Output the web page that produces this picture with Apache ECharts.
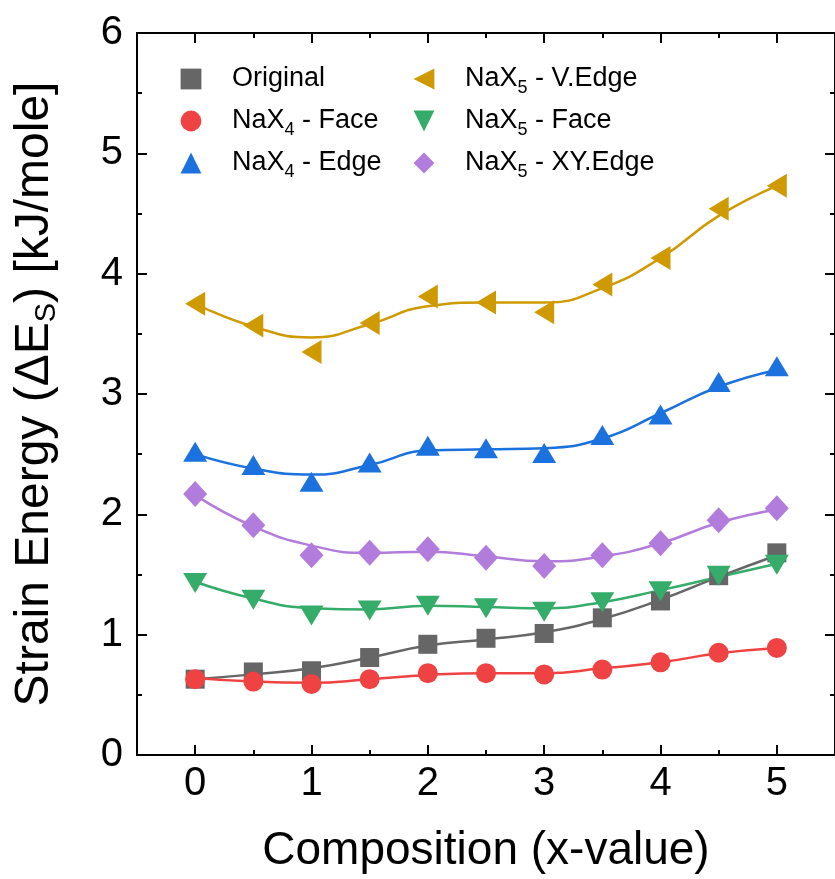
<!DOCTYPE html>
<html>
<head>
<meta charset="utf-8">
<script src="https://cdn.jsdelivr.net/npm/echarts@6/dist/echarts.min.js"></script>
<style>
  html, body { margin: 0; padding: 0; background: #ffffff; }
  #chart { width: 835px; height: 879px; }
</style>
</head>
<body>
<div id="chart"></div>
<script>
// Composition values (x) and tick labels
const compositions = [0, 0.5, 1, 1.5, 2, 2.5, 3, 3.5, 4, 4.5, 5];
const xMajorTicks = [0, 1, 2, 3, 4, 5];
const xMinorTicks = [0.5, 1.5, 2.5, 3.5, 4.5];
const seriesNames = ['Original', 'NaX4 - Face', 'NaX4 - Edge', 'NaX5 - V.Edge', 'NaX5 - Face', 'NaX5 - XY.Edge'];

// Strain energy per composition (kJ/mole)
const original   = [0.63, 0.69, 0.70, 0.81, 0.92, 0.97, 1.01, 1.14, 1.28, 1.49, 1.68];
const nax4Face   = [0.63, 0.61, 0.59, 0.63, 0.68, 0.68, 0.67, 0.71, 0.77, 0.85, 0.89];
const nax4Edge   = [2.52, 2.41, 2.27, 2.43, 2.57, 2.55, 2.51, 2.66, 2.83, 3.10, 3.23];
const nax5VEdge  = [3.75, 3.57, 3.35, 3.59, 3.81, 3.76, 3.68, 3.91, 4.13, 4.54, 4.73];
const nax5Face   = [1.43, 1.29, 1.16, 1.20, 1.24, 1.22, 1.19, 1.27, 1.36, 1.49, 1.58];
const nax5XYEdge = [2.17, 1.91, 1.66, 1.68, 1.71, 1.64, 1.57, 1.66, 1.76, 1.95, 2.05];

// Smoothed trend curves through each data set
const originalFit   = [0.63, 0.67, 0.72, 0.81, 0.91, 0.96, 1.02, 1.13, 1.29, 1.48, 1.66];
const nax4FaceFit   = [0.64, 0.61, 0.60, 0.63, 0.665, 0.68, 0.68, 0.72, 0.77, 0.845, 0.89];
const nax4EdgeFit   = [2.50, 2.38, 2.33, 2.41, 2.53, 2.54, 2.55, 2.63, 2.84, 3.06, 3.20];
const nax5VEdgeFit  = [3.75, 3.56, 3.47, 3.58, 3.73, 3.76, 3.76, 3.88, 4.13, 4.48, 4.73];
const nax5FaceFit   = [1.44, 1.30, 1.22, 1.21, 1.24, 1.23, 1.22, 1.27, 1.37, 1.48, 1.59];
const nax5XYEdgeFit = [2.16, 1.90, 1.74, 1.68, 1.69, 1.65, 1.61, 1.65, 1.76, 1.93, 2.04];

const FONT = '"Liberation Sans", Arial, Helvetica, sans-serif';

const styles = [
  { values: original,   fit: originalFit,   color: '#666666', symbol: 'rect',     size: 19,       rotate: 0 },
  { values: nax4Face,   fit: nax4FaceFit,   color: '#EF4242', symbol: 'circle',   size: 20,       rotate: 0 },
  { values: nax4Edge,   fit: nax4EdgeFit,   color: '#1B72DF', symbol: 'triangle', size: [24, 20], rotate: 0 },
  { values: nax5VEdge,  fit: nax5VEdgeFit,  color: '#CF9A00', symbol: 'triangle', size: [24, 20], rotate: 90 },
  { values: nax5Face,   fit: nax5FaceFit,   color: '#35AC69', symbol: 'triangle', size: [24, 20], rotate: 180 },
  { values: nax5XYEdge, fit: nax5XYEdgeFit, color: '#B27CDD', symbol: 'diamond',  size: [24, 26], rotate: 0 }
];

const pairs = arr => compositions.map((x, i) => [x, arr[i]]);

const markerSeries = styles.map((s, i) => ({
  name: seriesNames[i],
  type: 'line',
  data: pairs(s.values),
  symbol: s.symbol,
  symbolSize: s.size,
  symbolRotate: s.rotate,
  showSymbol: true,
  itemStyle: { color: s.color },
  lineStyle: { width: 0 },
  z: 4,
  silent: true
}));

const fitSeries = styles.map((s, i) => ({
  name: seriesNames[i],
  type: 'line',
  data: pairs(s.fit),
  smooth: true,
  symbol: 'none',
  lineStyle: { color: s.color, width: 2.5 },
  itemStyle: { color: s.color },
  z: 2,
  silent: true
}));

// Subscript digit after "X" in legend entries
const subFormatter = name => name.replace(/X(\d)/, 'X{sub|$1}');

const legendText = {
  fontFamily: FONT, fontSize: 27, color: '#000', lineHeight: 36,
  rich: { sub: { fontFamily: FONT, fontSize: 18, lineHeight: 18, padding: [18, 0, 0, 0], color: '#000' } }
};

const legendBase = {
  orient: 'vertical', top: 61, itemWidth: 72, itemHeight: 26, itemGap: 6, padding: 0,
  textStyle: legendText, formatter: subFormatter, selectedMode: false,
  lineStyle: { width: 0 }
};

const majorTick = { show: true, inside: true, length: 10, lineStyle: { color: '#000', width: 2 } };
const minorTick = { show: true, inside: true, length: 5, lineStyle: { color: '#000', width: 2 } };
const axisLineStyle = { show: true, onZero: false, lineStyle: { color: '#000', width: 2 } };

const xBase = { type: 'value', min: -0.5, max: 5.5, splitLine: { show: false } };

const option = {
  animation: false,
  backgroundColor: '#ffffff',
  grid: { left: 137, top: 33, width: 704, height: 722, containLabel: false },
  legend: [
    Object.assign({}, legendBase, { left: 155, data: seriesNames.slice(0, 3) }),
    Object.assign({}, legendBase, { left: 388, data: seriesNames.slice(3) })
  ],
  xAxis: [
    Object.assign({}, xBase, {
      position: 'bottom',
      name: 'Composition (x-value)', nameLocation: 'middle', nameGap: 73,
      nameTextStyle: { fontFamily: FONT, fontSize: 46, color: '#000', lineHeight: 46 },
      axisLine: axisLineStyle,
      axisTick: Object.assign({ customValues: xMajorTicks }, majorTick),
      axisLabel: { customValues: xMajorTicks, margin: 9, fontFamily: FONT, fontSize: 40, lineHeight: 40, color: '#000' }
    }),
    Object.assign({}, xBase, {
      position: 'bottom', axisLine: { show: false, onZero: false },
      axisTick: Object.assign({ customValues: xMinorTicks }, minorTick),
      axisLabel: { show: false }
    }),
    Object.assign({}, xBase, {
      position: 'top', axisLine: axisLineStyle,
      axisTick: Object.assign({ customValues: xMajorTicks }, majorTick),
      axisLabel: { show: false }
    }),
    Object.assign({}, xBase, {
      position: 'top', axisLine: { show: false, onZero: false },
      axisTick: Object.assign({ customValues: xMinorTicks }, minorTick),
      axisLabel: { show: false }
    })
  ],
  yAxis: [
    {
      type: 'value', min: 0, max: 6, interval: 1, position: 'left',
      name: 'Strain Energy (ΔE{sub|S}) [kJ/mole]', nameLocation: 'middle', nameGap: 78,
      nameTextStyle: {
        fontFamily: FONT, fontSize: 48, color: '#000', lineHeight: 48,
        rich: { sub: { fontFamily: FONT, fontSize: 29, lineHeight: 29, padding: [24, 0, 0, 0], color: '#000' } }
      },
      splitLine: { show: false },
      axisLine: axisLineStyle,
      axisTick: majorTick,
      minorTick: Object.assign({ splitNumber: 2 }, minorTick),
      axisLabel: { margin: 14, fontFamily: FONT, fontSize: 40, color: '#000' }
    },
    {
      type: 'value', min: 0, max: 6, interval: 1, position: 'right',
      splitLine: { show: false },
      axisLine: axisLineStyle,
      axisTick: majorTick,
      minorTick: Object.assign({ splitNumber: 2 }, minorTick),
      axisLabel: { show: false }
    }
  ],
  series: markerSeries.concat(fitSeries)
};

const chart = echarts.init(document.getElementById('chart'), null, { renderer: 'canvas' });
chart.setOption(option);
</script>
</body>
</html>
